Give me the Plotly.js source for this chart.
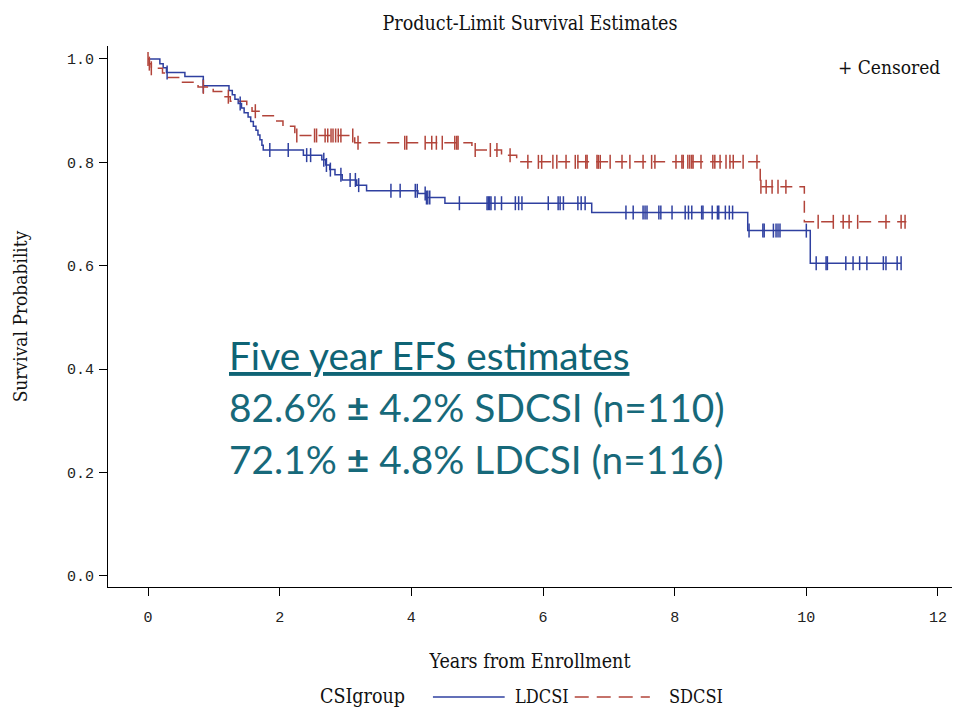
<!DOCTYPE html>
<html>
<head>
<meta charset="utf-8">
<script src="https://cdn.plot.ly/plotly-3.0.1.min.js"></script>
<style>html,body{margin:0;padding:0;background:#fff;}#chart{width:954px;height:711px;}</style>
</head>
<body>
<div id="chart"></div>
<script>
// LDCSI Kaplan-Meier steps (time in years, survival after event)
const ldTimes = [0, 0.18, 0.23, 0.28, 0.56, 0.84, 1.23, 1.28, 1.32, 1.37, 1.42, 1.46, 1.52, 1.56, 1.60, 1.64, 1.67, 1.70, 1.73, 1.75, 2.36, 2.64, 2.70, 2.76, 2.84, 2.95, 3.17, 3.32, 4.10, 4.22, 4.51, 6.74, 9.11, 10.06, 11.44];
const ldSurv  = [1.0, 0.991, 0.983, 0.974, 0.966, 0.948, 0.939, 0.931, 0.922, 0.914, 0.905, 0.896, 0.888, 0.879, 0.870, 0.862, 0.853, 0.844, 0.833, 0.824, 0.814, 0.805, 0.795, 0.786, 0.776, 0.766, 0.756, 0.745, 0.740, 0.732, 0.721, 0.703, 0.668, 0.605, 0.605];
const ldCensor = [0.29, 0.84, 1.40, 1.85, 2.13, 2.41, 2.47, 2.67, 2.71, 2.77, 2.93, 3.07, 3.15, 3.20, 3.69, 3.83, 4.06, 4.09, 4.21, 4.23, 4.25, 4.28, 4.73, 5.15, 5.17, 5.19, 5.21, 5.27, 5.37, 5.58, 5.63, 5.68, 6.08, 6.23, 6.26, 6.31, 6.53, 6.58, 6.64, 7.26, 7.37, 7.52, 7.55, 7.58, 7.76, 7.79, 7.96, 8.16, 8.21, 8.26, 8.41, 8.43, 8.57, 8.65, 8.67, 8.77, 8.83, 8.88, 9.13, 9.34, 9.36, 9.50, 9.54, 9.57, 9.60, 10.00, 10.15, 10.30, 10.32, 10.60, 10.71, 10.81, 10.92, 11.17, 11.21, 11.38, 11.44];

// SDCSI Kaplan-Meier steps
const sdTimes = [0, 0.02, 0.05, 0.22, 0.30, 0.48, 0.76, 0.99, 1.15, 1.25, 1.50, 1.58, 1.70, 1.92, 2.05, 2.23, 3.14, 4.92, 5.37, 5.60, 9.30, 9.97, 11.52];
const sdSurv  = [1.0, 0.991, 0.982, 0.973, 0.964, 0.955, 0.946, 0.937, 0.927, 0.918, 0.908, 0.899, 0.890, 0.880, 0.870, 0.852, 0.838, 0.824, 0.814, 0.801, 0.753, 0.685, 0.685];
const sdCensor = [0, 0.02, 0.05, 0.84, 1.22, 1.63, 2.26, 2.53, 2.56, 2.69, 2.73, 2.78, 2.81, 2.85, 2.89, 2.93, 3.11, 3.19, 3.90, 3.93, 4.21, 4.31, 4.38, 4.47, 4.66, 4.69, 4.71, 4.97, 5.20, 5.30, 5.50, 5.77, 5.93, 5.98, 6.15, 6.21, 6.35, 6.49, 6.53, 6.65, 6.67, 6.82, 6.84, 6.87, 7.02, 7.20, 7.32, 7.52, 7.65, 7.70, 8.02, 8.11, 8.13, 8.20, 8.23, 8.26, 8.28, 8.40, 8.58, 8.61, 8.69, 8.78, 8.84, 8.89, 9.04, 9.25, 9.31, 9.39, 9.48, 9.57, 9.69, 10.18, 10.41, 10.56, 10.65, 10.78, 11.21, 11.44, 11.50];

const groupNames = ['LDCSI', 'SDCSI'];
const xTicks = [0, 2, 4, 6, 8, 10, 12];
const yTicks = [0, 0.2, 0.4, 0.6, 0.8, 1.0];
const efsLines = ['Five year EFS estimates', '82.6% <b>\u00B1</b> 4.2% SDCSI (n=110)', '72.1% <b>\u00B1</b> 4.8% LDCSI (n=116)'];

const BLUE = '#2F40A0';
const RED = '#B2443A';
const TEAL = '#17697A';

function survAt(times, surv, t) {
  let s = surv[0];
  for (let i = 0; i < times.length; i++) { if (times[i] <= t) s = surv[i]; else break; }
  return s;
}

const traces = [
  {x: ldTimes, y: ldSurv, type: 'scatter', mode: 'lines', line: {shape: 'hv', color: BLUE, width: 1.5}, name: groupNames[0], showlegend: false, hoverinfo: 'skip'},
  {x: sdTimes, y: sdSurv, type: 'scatter', mode: 'lines', line: {shape: 'hv', color: RED, width: 1.5, dash: '12px,7px'}, name: groupNames[1], showlegend: false, hoverinfo: 'skip'},
  {x: ldCensor, y: ldCensor.map(t => survAt(ldTimes, ldSurv, t)), type: 'scatter', mode: 'markers', marker: {symbol: 'line-ns-open', size: 10, color: BLUE, line: {color: BLUE, width: 1.5}}, showlegend: false, hoverinfo: 'skip'},
  {x: sdCensor, y: sdCensor.map(t => survAt(sdTimes, sdSurv, t)), type: 'scatter', mode: 'markers', marker: {symbol: 'line-ns-open', size: 10, color: RED, line: {color: RED, width: 1.5}}, showlegend: false, hoverinfo: 'skip'}
];

const serif = '"DejaVu Serif Condensed", "DejaVu Serif", "Liberation Serif", serif';
const mono = '"Liberation Mono", "DejaVu Sans Mono", monospace';
const calib = 'Lato, "Open Sans", sans-serif';

const legY = -0.2033;
const layout = {
  width: 954, height: 711,
  margin: {l: 108, r: 2, t: 46, b: 124},
  paper_bgcolor: '#ffffff', plot_bgcolor: '#ffffff',
  showlegend: false,
  title: {text: 'Product-Limit Survival Estimates', font: {family: serif, size: 19.5, color: '#111'}, x: 0.5, xref: 'paper', y: 1 - 23/711, yref: 'container', yanchor: 'middle'},
  xaxis: {
    range: [-0.608, 12.213], tickvals: xTicks, ticktext: xTicks.map(String),
    showgrid: false, zeroline: false, showline: true, linecolor: '#000', linewidth: 1,
    ticks: 'outside', ticklen: 8, tickcolor: '#000', tickwidth: 1,
    tickfont: {family: mono, size: 15, color: '#222'}, ticklabelstandoff: 8,
    title: {text: 'Years from Enrollment', font: {family: serif, size: 19.5, color: '#111'}, standoff: 28}
  },
  yaxis: {
    range: [-0.0213, 1.0251], tickvals: yTicks, ticktext: yTicks.map(v => v.toFixed(1)),
    showgrid: false, zeroline: false, showline: true, linecolor: '#000', linewidth: 1,
    ticks: 'outside', ticklen: 8, tickcolor: '#000', tickwidth: 1,
    tickfont: {family: mono, size: 15, color: '#222'}, ticklabelstandoff: 2,
    title: {text: 'Survival Probability', font: {family: serif, size: 19, color: '#111'}, standoff: 34}
  },
  shapes: [
    {type: 'line', xref: 'paper', yref: 'paper', x0: 0.385, x1: 0.470, y0: legY, y1: legY, line: {color: BLUE, width: 1.5}},
    {type: 'line', xref: 'paper', yref: 'paper', x0: 0.553, x1: 0.642, y0: legY, y1: legY, line: {color: RED, width: 1.5, dash: '14px,8px'}}
  ],
  annotations: [
    {text: 'CSIgroup', xref: 'paper', yref: 'paper', x: 0.249, y: legY, xanchor: 'left', yanchor: 'middle', showarrow: false, font: {family: serif, size: 19.5, color: '#111'}},
    {text: groupNames[0], xref: 'paper', yref: 'paper', x: 0.480, y: legY, xanchor: 'left', yanchor: 'middle', showarrow: false, font: {family: serif, size: 18, color: '#111'}},
    {text: groupNames[1], xref: 'paper', yref: 'paper', x: 0.662, y: legY, xanchor: 'left', yanchor: 'middle', showarrow: false, font: {family: serif, size: 18, color: '#111'}},
    {text: '+ Censored', xref: 'paper', yref: 'paper', x: 0.863, y: 0.961, xanchor: 'left', yanchor: 'middle', showarrow: false, font: {family: serif, size: 19, color: '#111'}},
    {text: '<u>' + efsLines[0] + '</u>', xref: 'paper', yref: 'paper', x: 0.141, y: 0.4288, xanchor: 'left', yanchor: 'middle', showarrow: false, font: {family: calib, size: 38.8, color: '#0F6475'}},
    {text: efsLines[1], xref: 'paper', yref: 'paper', x: 0.141, y: 0.3327, xanchor: 'left', yanchor: 'middle', showarrow: false, font: {family: calib, size: 38.8, color: TEAL}},
    {text: efsLines[2], xref: 'paper', yref: 'paper', x: 0.141, y: 0.2366, xanchor: 'left', yanchor: 'middle', showarrow: false, font: {family: calib, size: 38.8, color: TEAL}}
  ]
};

Plotly.newPlot('chart', traces, layout, {staticPlot: true, displayModeBar: false});
</script>
</body>
</html>
